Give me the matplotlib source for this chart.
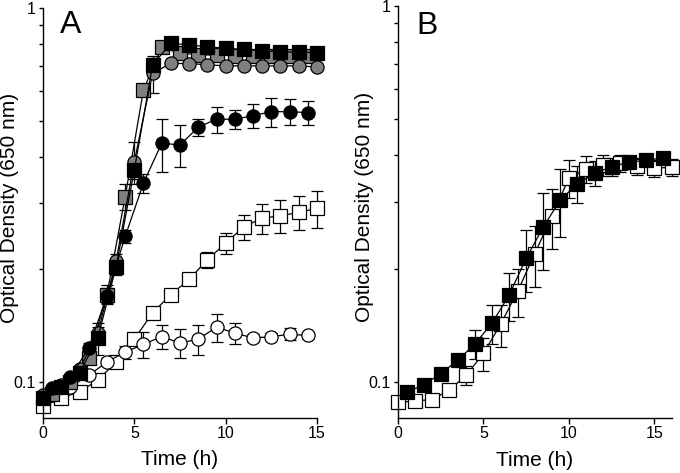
import matplotlib
matplotlib.use('Agg')
import matplotlib.pyplot as plt
import numpy as np
from matplotlib.ticker import FixedLocator, NullFormatter, FuncFormatter

plt.rcParams['font.family'] = ['Liberation Sans', 'DejaVu Sans']

# ---- Panel A data ----
a_t_int = [0, 1, 2, 3, 4, 5, 6, 7, 8, 9, 10, 11, 12, 13, 14, 15]
a_t_half = [0.5, 1.5, 2.5, 3.5, 4.5, 5.5, 6.5, 7.5, 8.5, 9.5, 10.5, 11.5, 12.5, 13.5, 14.5]

a_black_sq = [0.0905, 0.097, 0.1055, 0.131, 0.203, 0.369, 0.704, 0.805,
              0.796, 0.788, 0.780, 0.775, 0.769, 0.764, 0.761, 0.760]
a_black_sq_err = [0.002, 0.002, 0.003, 0.013, 0.01, 0.02, 0.03, 0.01,
                  0.01, 0.01, 0.01, 0.01, 0.01, 0.01, 0.01, 0.01]

a_gray_circ = [0.092, 0.098, 0.108, 0.135, 0.21, 0.388, 0.669, 0.711,
               0.71, 0.705, 0.70, 0.70, 0.70, 0.70, 0.70, 0.695]
a_gray_circ_err = [0.002, 0.002, 0.003, 0.005, 0.01, 0.05, 0.075, 0.01,
                   0.01, 0.01, 0.01, 0.01, 0.01, 0.01, 0.01, 0.01]

a_gray_sq = [0.093, 0.100, 0.116, 0.171, 0.313, 0.604, 0.785, 0.757,
             0.75, 0.748, 0.746, 0.745, 0.744, 0.743, 0.742]
a_gray_sq_err = [0.002, 0.002, 0.004, 0.01, 0.025, 0.02, 0.01, 0.01,
                 0.01, 0.01, 0.01, 0.01, 0.01, 0.01, 0.01]

a_black_circ = [0.096, 0.103, 0.123, 0.17, 0.245, 0.34, 0.435, 0.43,
                0.48, 0.504, 0.504, 0.515, 0.528, 0.528, 0.525]
a_black_circ_err = [0.002, 0.002, 0.004, 0.008, 0.01, 0.02, 0.07, 0.055,
                    0.025, 0.04, 0.03, 0.037, 0.047, 0.043, 0.04]

a_open_sq = [0.086, 0.0905, 0.094, 0.101, 0.113, 0.13, 0.153, 0.171,
             0.188, 0.212, 0.235, 0.26, 0.274, 0.278, 0.284, 0.291]
a_open_sq_err = [0.001, 0.001, 0.001, 0.002, 0.003, 0.004, 0.003, 0.003,
                 0.004, 0.01, 0.015, 0.02, 0.025, 0.028, 0.03, 0.033]

a_open_circ = [0.092, 0.097, 0.104, 0.113, 0.12, 0.126, 0.132, 0.127,
               0.13, 0.14, 0.135, 0.131, 0.132, 0.134, 0.133]
a_open_circ_err = [0.001, 0.001, 0.002, 0.003, 0.005, 0.01, 0.01, 0.011,
                   0.012, 0.012, 0.009, 0.003, 0.003, 0.005, 0.003]

# ---- Panel B data ----
b_t_black = [0.5, 1.5, 2.5, 3.5, 4.5, 5.5, 6.5, 7.5, 8.5, 9.5, 10.5, 11.5, 12.5, 13.5, 14.5, 15.5]
b_black_sq = [0.0937, 0.098, 0.105, 0.114, 0.126, 0.143, 0.17, 0.213,
              0.258, 0.305, 0.336, 0.359, 0.373, 0.384, 0.388, 0.394]
b_black_sq_err = [0.002, 0.002, 0.002, 0.004, 0.011, 0.017, 0.025, 0.04,
                  0.06, 0.063, 0.038, 0.028, 0.02, 0.015, 0.013, 0.013]

b_t_open = [0, 1, 2, 3, 4, 5, 6, 7, 8, 9, 10, 11, 12, 13, 14, 15, 16]
b_open_sq = [0.088, 0.0888, 0.0896, 0.095, 0.104, 0.119, 0.142, 0.174,
             0.219, 0.276, 0.348, 0.368, 0.377, 0.381, 0.374, 0.370, 0.372]
b_open_sq_err = [0.001, 0.001, 0.001, 0.002, 0.006, 0.012, 0.018, 0.025,
                 0.04, 0.05, 0.04, 0.03, 0.025, 0.02, 0.02, 0.02, 0.02]

GRAY = '#808080'


def series(ax, t, v, err, marker, face, ms):
    cont = ax.errorbar(t, v, yerr=err, fmt='-', marker=marker, color='black',
                       lw=0.9, mfc=face, mec='black', mew=0.9, ms=ms,
                       ecolor='black', elinewidth=0.9, capsize=4.5, capthick=0.9)
    for art in cont.get_children():
        art.set_clip_on(False)
    return cont


def style_axes(ax, xmax, letter, lx, ly):
    ax.set_yscale('log')
    ax.set_ylim(0.08, 1)
    ax.set_xlim(0, xmax)
    for s in ['top', 'right']:
        ax.spines[s].set_visible(False)
    for s in ['left', 'bottom']:
        ax.spines[s].set_linewidth(1.0)
    ax.yaxis.set_major_locator(FixedLocator([0.1, 1]))
    ax.yaxis.set_major_formatter(FuncFormatter(lambda v, p: '1' if v == 1 else '0.1'))
    ax.yaxis.set_minor_locator(FixedLocator([0.2, 0.3, 0.4, 0.5, 0.6, 0.7, 0.8, 0.9]))
    ax.yaxis.set_minor_formatter(NullFormatter())
    ax.set_xticks([0, 5, 10, 15])
    ax.tick_params(axis='both', which='both', direction='out', width=1.0, labelsize=11.5, pad=2)
    ax.tick_params(axis='y', which='both', length=3)
    ax.tick_params(axis='x', which='major', length=4)
    ax.set_xlabel('Time (h)', fontsize=15, va='center')
    ax.set_ylabel('Optical Density (650 nm)', fontsize=15, va='center', ha='center')
    ax.xaxis.set_label_coords(0.5, -0.102)
    ax.yaxis.set_label_coords(-0.124, 0.512)
    ax.text(lx, ly, letter, transform=ax.transAxes, fontsize=23,
            ha='left', va='top')


fig = plt.figure(figsize=(6.8, 4.73), dpi=100)
axA = fig.add_axes([43 / 680, 1 - 418 / 473, 274 / 680, 410 / 473])
axB = fig.add_axes([398 / 680, 1 - 418 / 473, 273.5 / 680, 412 / 473])

series(axA, a_t_int, a_open_sq, a_open_sq_err, 's', 'white', 10)
series(axA, a_t_half, a_open_circ, a_open_circ_err, 'o', 'white', 9.5)
series(axA, a_t_half, a_gray_sq, a_gray_sq_err, 's', GRAY, 10)
series(axA, a_t_int, a_gray_circ, a_gray_circ_err, 'o', GRAY, 9.5)
series(axA, a_t_half, a_black_circ, a_black_circ_err, 'o', 'black', 9.5)
series(axA, a_t_int, a_black_sq, a_black_sq_err, 's', 'black', 10)
style_axes(axA, 15, 'A', 0.062, 0.995)

series(axB, b_t_open, b_open_sq, b_open_sq_err, 's', 'white', 10)
series(axB, b_t_black, b_black_sq, b_black_sq_err, 's', 'black', 10)
style_axes(axB, 16, 'B', 0.069, 0.988)

fig.savefig('out.png', dpi=100)
